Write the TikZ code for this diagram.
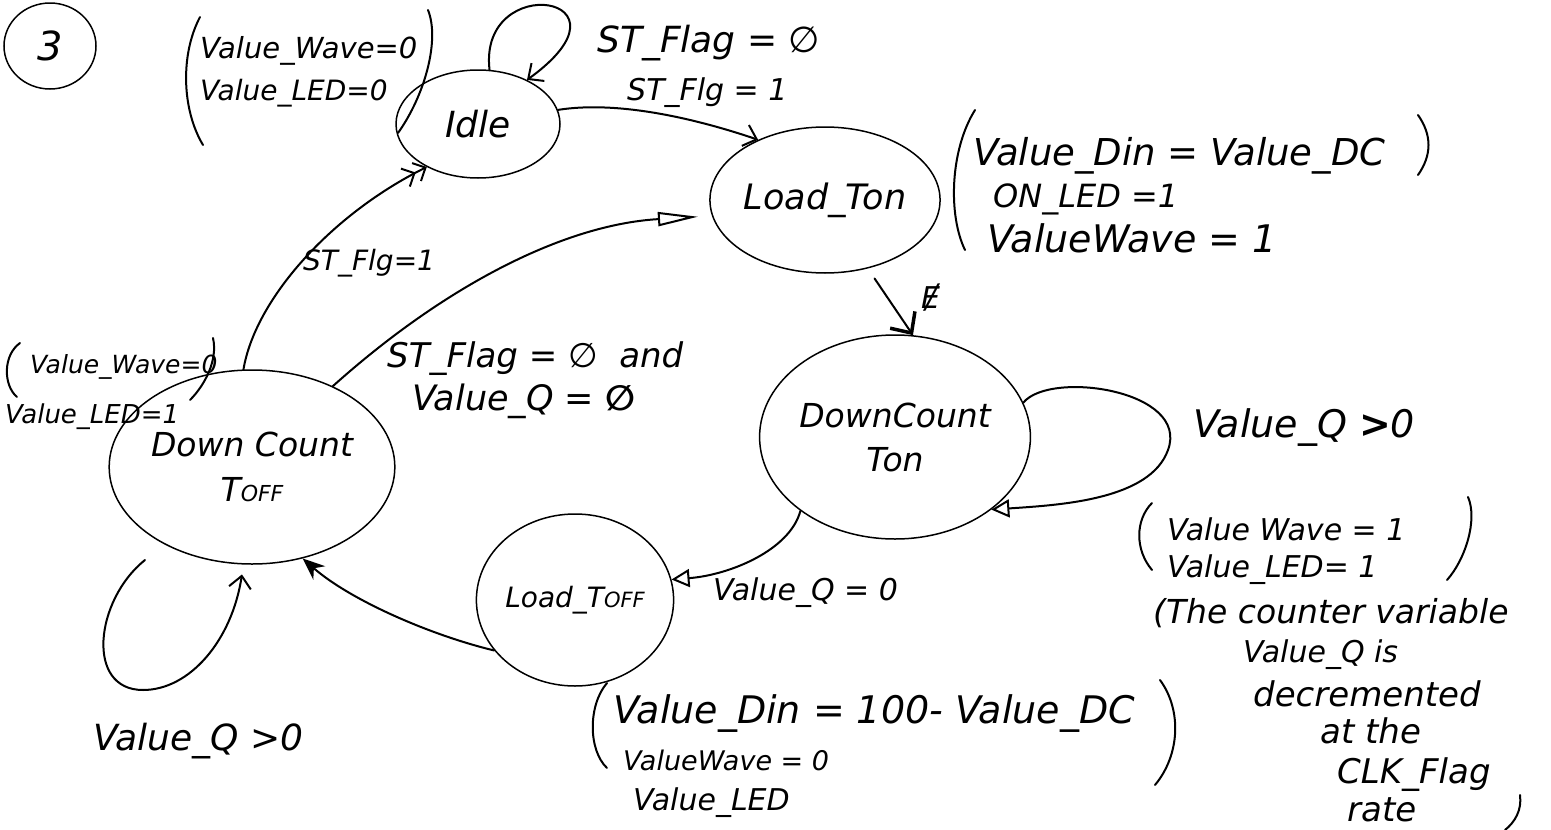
\documentclass[tikz,border=0pt]{standalone}
\usepackage{fontspec}
\setmainfont{DejaVu Sans}
\usetikzlibrary{shapes.geometric,arrows.meta}
% handwriting-like text size: #1 font size, #2 line distance
\newcommand\hw[2]{\fontsize{#1}{#2}\selectfont\itshape}

\tikzset{
  state/.style={ellipse, draw, line width=1.5pt, inner sep=0pt, align=center},
  txt/.style={anchor=base west, inner sep=0pt},
  edge/.style={line width=2pt, line cap=round},
  paren/.style={line width=2pt, line cap=round},
  barb/.style={-{Straight Barb[length=12pt,width=22pt,line width=2pt]}},
  bigbarb/.style={-{Straight Barb[length=16pt,width=30pt,line width=3.5pt]}},
  dbarb/.style={-{Straight Barb[length=10pt,width=20pt,line width=2pt]Straight Barb[length=10pt,width=20pt,line width=2pt]}},
  hollow/.style={-{Triangle[open,length=18pt,width=18pt,line width=2pt]}},
  flat/.style={-{Triangle[open,length=40pt,width=14pt,line width=2pt]}},
  heavy/.style={-{Stealth[length=22pt,width=18pt]}},
}

\begin{document}
\begin{tikzpicture}[x=1pt,y=-1pt]
\fill[white] (0,0) rectangle (1551,830);
\useasboundingbox (0,0) rectangle (1551,830);

% states
\node[state, minimum width=92pt, minimum height=86pt, font=\hw{40}{40}] (num) at (50,46) {3};
\node[state, minimum width=164pt, minimum height=108pt, font=\hw{36}{40}] (idle) at (478,124) {Idle};
\node[state, minimum width=204pt, minimum height=146pt, font=\hw{35}{40}] (lton) at (825,200) {Load\_Ton};
\node[state, minimum width=236pt, minimum height=204pt, font=\hw{33}{44}] (dcton) at (895,437) {DownCount\\Ton};
\node[state, minimum width=176pt, minimum height=172pt, font=\hw{28}{30}] (ltoff) at (575,600) {Load\_T{\hw{21}{21}OFF}};
\node[state, minimum width=254pt, minimum height=194pt, font=\hw{33}{45}] (dctoff) at (252,467) {Down Count\\T{\hw{22}{22}OFF}};

% outputs of Idle
\node[txt, font=\hw{29}{29}] (iw) at (200,58) {Value\_Wave=0};
\node[txt, font=\hw{28}{28}] (il) at (200,100) {Value\_LED=0};
\draw[paren] (200,17) .. controls (180,55) and (182,110) .. (203,145);
\draw[paren] (428,10) .. controls (440,40) and (425,95) .. (398,133);

% Idle self loop and Idle -> Load_Ton
\draw[edge, barb] (idle.78) .. controls (478,-30) and (645,-5) .. (idle.42);
\node[txt, font=\hw{36}{36}] (l1) at (597,52) {ST\_Flag = ∅};
\draw[edge, barb] (idle.10) .. controls (620,100) and (700,120) .. (lton.138);
\node[txt, font=\hw{30}{30}] (l2) at (627,100) {ST\_Flg = 1};

% outputs of Load_Ton
\node[txt, font=\hw{37}{37}] (a1) at (973,165) {Value\_Din = Value\_DC};
\node[txt, font=\hw{32}{32}] (a2) at (993,207) {ON\_LED =1};
\node[txt, font=\hw{38}{38}] (a3) at (987,252) {ValueWave = 1};
\draw[paren] (975,110) .. controls (950,150) and (948,215) .. (965,250);
\draw[paren] (1418,115) .. controls (1432,135) and (1432,155) .. (1418,175);

% Load_Ton -> DownCount Ton
\draw[edge, bigbarb, shorten <=12pt] (lton.-58) -- (dcton.80);
\node[txt, font=\hw{30}{30}] (l3) at (921,308) {Ɇ};

% DownCount Ton self loop
\draw[edge, hollow] (dcton.15) .. controls (1050,370) and (1190,390) .. (1168,450)
  .. controls (1150,500) and (1060,505) .. (dcton.-37);
\node[txt, font=\hw{38}{38}] (l4) at (1193,437) {Value\_Q {\bfseries >}0};
\node[txt, font=\hw{30}{30}] (b1) at (1167,540) {Value Wave = 1};
\node[txt, font=\hw{30}{30}] (b2) at (1167,577) {Value\_LED= 1};
\draw[paren] (1152,503) .. controls (1135,520) and (1135,550) .. (1152,570);
\draw[paren] (1468,497) .. controls (1478,520) and (1465,560) .. (1447,580);
\node[txt, font=\hw{33}{33}] (c1) at (1153,623) {(The counter variable};
\node[txt, font=\hw{30}{30}] (c2) at (1243,662) {Value\_Q is};
\node[txt, font=\hw{34}{34}] (c3) at (1253,706) {decremented};
\node[txt, font=\hw{34}{34}] (c4) at (1320,743) {at the};
\node[txt, font=\hw{34}{34}] (c5) at (1337,783) {CLK\_Flag};
\node[txt, font=\hw{34}{34}] (c6) at (1347,821) {rate};
\draw[paren] (1520,795) .. controls (1522,810) and (1515,822) .. (1505,830);

% DownCount Ton -> Load_TOFF
\draw[edge, hollow] (dcton.-142) .. controls (790,550) and (730,575) .. (ltoff.12);
\node[txt, font=\hw{30}{30}] (l5) at (713,600) {Value\_Q = 0};

% outputs of Load_TOFF
\node[txt, font=\hw{38}{38}] (d1) at (613,723) {Value\_Din = 100- Value\_DC};
\node[txt, font=\hw{27}{27}] (d2) at (623,770) {ValueWave = 0};
\node[txt, font=\hw{30}{30}] (d3) at (633,810) {Value\_LED};
\draw[paren] (607,683) .. controls (588,705) and (588,750) .. (607,768);
\draw[paren] (1160,680) .. controls (1182,710) and (1180,755) .. (1155,785);

% Load_TOFF -> DownCount TOFF
\draw[edge, heavy] (ltoff.-148) .. controls (430,635) and (350,600) .. (dctoff.-61);

% DownCount TOFF self loop
\coordinate (loopstart) at (145,560);
\draw[edge, barb, shorten >=10pt] (loopstart) .. controls (95,600) and (85,690) .. (143,690)
  .. controls (190,690) and (232,640) .. (dctoff.-95);
\node[txt, font=\hw{36}{36}] (l6) at (93,750) {Value\_Q >0};

% DownCount TOFF -> Idle
\draw[edge, dbarb] (dctoff.95) .. controls (255,300) and (330,215) .. (idle.-140);
\node[txt, font=\hw{28}{28}] (l7) at (303,270) {ST\_Flg=1};

% DownCount TOFF -> Load_Ton
\draw[edge, flat, shorten >=14pt] (dctoff.45) .. controls (440,290) and (560,225) .. (lton.188);
\node[txt, font=\hw{34}{34}] (l8) at (387,367) {ST\_Flag = ∅ \ and};
\node[txt, font=\hw{35}{35}] (l9) at (412,410) {Value\_Q = {\bfseries ∅}};

% outputs of DownCount TOFF
\node[txt, font=\hw{25}{25}] (e1) at (30,373) {Value\_Wave=0};
\node[txt, font=\hw{26}{26}] (e2) at (5,423) {Value\_LED=1};
\draw[paren] (20,343) .. controls (3,355) and (3,385) .. (17,397);
\draw[paren] (213,338) .. controls (218,360) and (205,385) .. (190,400);
\end{tikzpicture}
\end{document}
